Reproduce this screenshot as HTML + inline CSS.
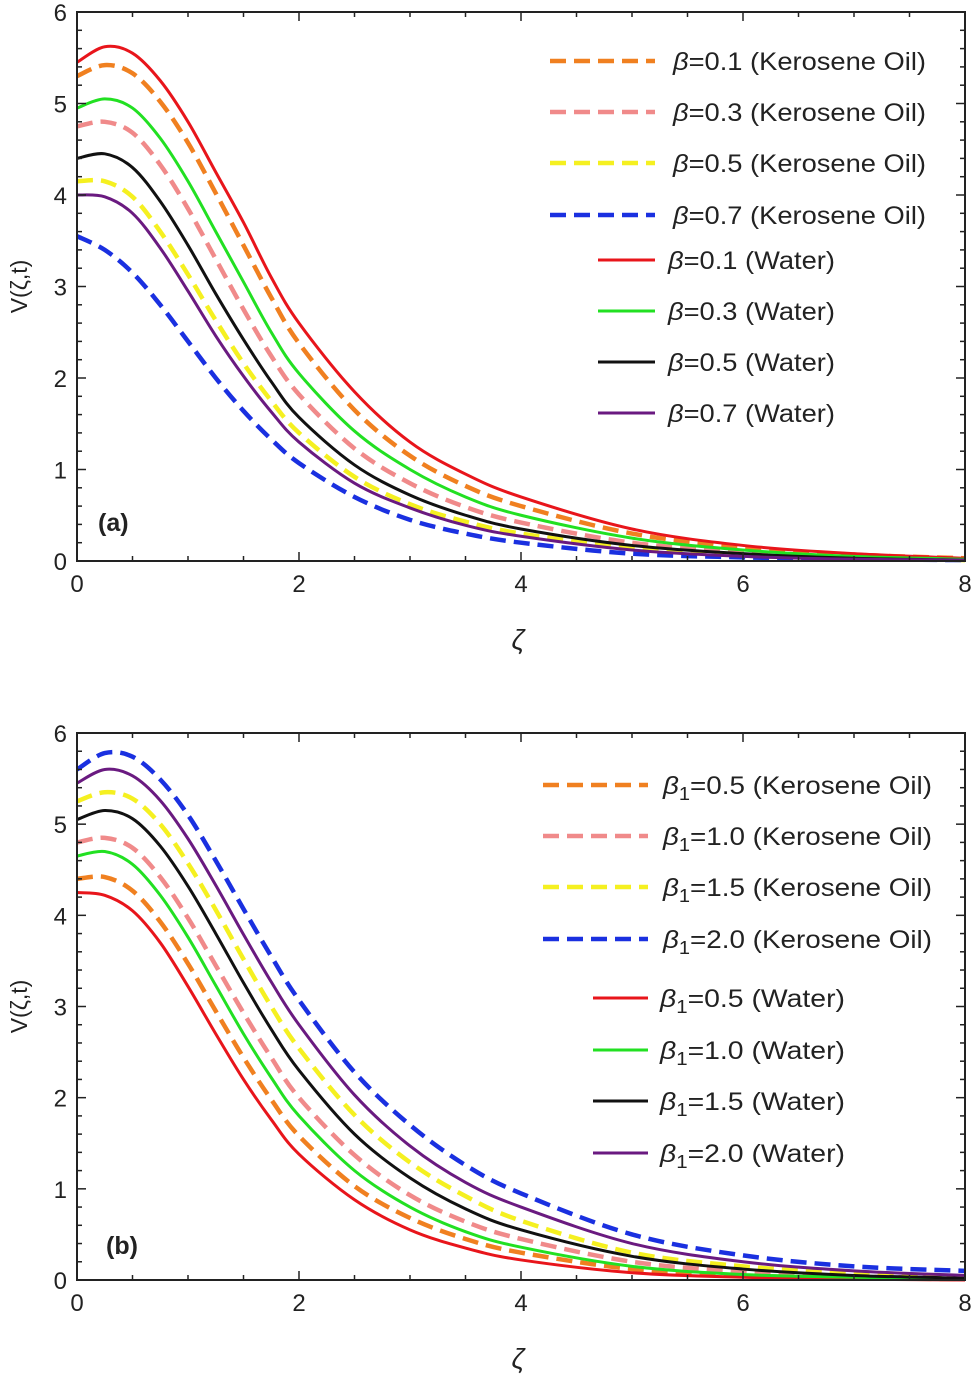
<!DOCTYPE html>
<html><head><meta charset="utf-8"><style>
body{margin:0;background:#fff}
svg text{font-family:"Liberation Sans",sans-serif;fill:#222}
</style></head><body>
<svg id="c" width="976" height="1379" viewBox="0 0 976 1379" xmlns="http://www.w3.org/2000/svg"></svg>
<script>
const xs=[0,0.25,0.5,0.75,1,1.25,1.5,1.75,2,2.5,3,3.5,4,5,6,7,8];
const xTicks=[0,2,4,6,8];
const yTicks=[0,1,2,3,4,5,6];
const aRedW=[5.45,5.62,5.55,5.25,4.8,4.25,3.7,3.1,2.6,1.85,1.3,0.95,0.7,0.35,0.17,0.08,0.03];
const aOrK=[5.3,5.42,5.33,5.02,4.57,4.02,3.45,2.88,2.38,1.65,1.15,0.82,0.6,0.3,0.15,0.07,0.03];
const aGrW=[4.95,5.05,4.95,4.62,4.15,3.6,3.05,2.5,2.05,1.42,1.0,0.7,0.5,0.25,0.12,0.05,0.02];
const aPkK=[4.75,4.8,4.68,4.33,3.85,3.3,2.75,2.24,1.82,1.23,0.85,0.59,0.42,0.2,0.1,0.04,0.02];
const aBkW=[4.4,4.45,4.3,3.93,3.45,2.92,2.42,1.96,1.57,1.05,0.72,0.5,0.35,0.17,0.08,0.03,0.01];
const aYeK=[4.15,4.15,3.98,3.6,3.13,2.63,2.16,1.75,1.4,0.92,0.62,0.43,0.3,0.14,0.06,0.03,0.01];
const aPuW=[4.0,3.98,3.8,3.42,2.95,2.46,2.02,1.63,1.3,0.85,0.58,0.39,0.27,0.12,0.05,0.02,0.01];
const aBlK=[3.55,3.4,3.15,2.8,2.4,2.0,1.64,1.33,1.07,0.7,0.45,0.3,0.2,0.08,0.04,0.02,0.01];
const bRedW=[4.25,4.22,4.05,3.7,3.22,2.7,2.2,1.76,1.38,0.88,0.55,0.35,0.22,0.08,0.03,0.01,0];
const bOrK=[4.4,4.42,4.27,3.93,3.47,2.95,2.44,1.98,1.58,1.03,0.68,0.45,0.3,0.12,0.05,0.02,0.01];
const bGrW=[4.65,4.7,4.56,4.22,3.76,3.23,2.7,2.22,1.8,1.2,0.8,0.53,0.36,0.15,0.06,0.03,0.01];
const bPkK=[4.8,4.85,4.74,4.42,3.97,3.45,2.93,2.44,2.0,1.37,0.93,0.64,0.45,0.2,0.09,0.04,0.02];
const bBkW=[5.05,5.15,5.06,4.76,4.32,3.8,3.26,2.75,2.3,1.6,1.12,0.78,0.55,0.26,0.12,0.05,0.02];
const bYeK=[5.25,5.35,5.28,5.0,4.57,4.06,3.52,3.0,2.54,1.81,1.29,0.92,0.65,0.3,0.15,0.07,0.03];
const bPuW=[5.45,5.6,5.53,5.26,4.84,4.33,3.79,3.27,2.8,2.03,1.47,1.07,0.8,0.4,0.2,0.1,0.05];
const bBlK=[5.6,5.78,5.74,5.49,5.1,4.6,4.07,3.55,3.07,2.28,1.7,1.26,0.95,0.5,0.27,0.15,0.1];
const legA=["β=0.1 (Kerosene Oil)","β=0.3 (Kerosene Oil)","β=0.5 (Kerosene Oil)","β=0.7 (Kerosene Oil)","β=0.1 (Water)","β=0.3 (Water)","β=0.5 (Water)","β=0.7 (Water)"];
const legB=["0.5 (Kerosene Oil)","1.0 (Kerosene Oil)","1.5 (Kerosene Oil)","2.0 (Kerosene Oil)","0.5 (Water)","1.0 (Water)","1.5 (Water)","2.0 (Water)"];

const NS="http://www.w3.org/2000/svg";
const svg=document.getElementById('c');
function mk(t,a,p){const e=document.createElementNS(NS,t);for(const k in a)e.setAttribute(k,a[k]);(p||svg).appendChild(e);return e;}
const C={red:"#e8151b",or:"#f08020",gr:"#22e022",pk:"#f08a8a",bk:"#111",ye:"#f5f020",pu:"#6a1a80",bl:"#1a30e0"};

function panel(id,top,bot,series,legend,lg,tag){
  const g=mk('g',{});
  
  
  const L=77,R=965;
  const sx=v=>L+(R-L)*v/8, sy=v=>bot-(bot-top)*v/6;
  for(const s of series){
    const pts=xs.map((x,i)=>[sx(x),sy(s.d[i])]);
    let d='M'+pts[0][0]+','+pts[0][1];
    for(let i=0;i<pts.length-1;i++){
      const p0=pts[Math.max(0,i-1)],p1=pts[i],p2=pts[i+1],p3=pts[Math.min(pts.length-1,i+2)];
      const c1=[p1[0]+(p2[0]-p0[0])/6,p1[1]+(p2[1]-p0[1])/6];
      const c2=[p2[0]-(p3[0]-p1[0])/6,p2[1]-(p3[1]-p1[1])/6];
      d+=` C${c1[0]},${c1[1]} ${c2[0]},${c2[1]} ${p2[0]},${p2[1]}`;
    }
    const p=mk('path',{d:d,fill:'none',stroke:s.c,'stroke-width':s.k?4.5:3,'stroke-dasharray':s.k?'16,8':'none'},g);
    
    
  }
  const fr=mk('rect',{x:L,y:top,width:R-L,height:bot-top,fill:'none',stroke:'#222','stroke-width':2},g);
  
  
  for(let v=0;v<=8.001;v+=0.5){const x=sx(v),len=Math.abs(v-Math.round(v/2)*2)<1e-6?9:5;
    mk('line',{x1:x,y1:bot,x2:x,y2:bot-len,stroke:'#222','stroke-width':1.5},g);
    mk('line',{x1:x,y1:top,x2:x,y2:top+len,stroke:'#222','stroke-width':1.5},g);}
  for(let v=0;v<=6.001;v+=0.2){const y=sy(v),len=Math.abs(v-Math.round(v))<1e-6?9:5;
    mk('line',{x1:L,y1:y,x2:L+len,y2:y,stroke:'#222','stroke-width':1.5},g);
    mk('line',{x1:R,y1:y,x2:R-len,y2:y,stroke:'#222','stroke-width':1.5},g);}
  for(const t of xTicks){const e=mk('text',{x:sx(t),y:bot+31,'font-size':24,'text-anchor':'middle'},g);e.textContent=t;
    }
  for(const t of yTicks){const e=mk('text',{x:L-10,y:sy(t)+9,'font-size':24,'text-anchor':'end'},g);e.textContent=t;
    }
  const xl=mk('text',{x:518,y:bot+88,'font-size':28,'font-style':'italic','text-anchor':'middle','font-family':'Liberation Serif'},g);xl.textContent='ζ';
  
  const yl=mk('text',{x:0,y:0,'font-size':23,'text-anchor':'middle',transform:`translate(27,${(top+bot)/2}) rotate(-90)`},g);yl.textContent='V(ζ,t)';
  
  const tg=mk('text',{x:tag[0],y:tag[1],'font-size':25,'font-weight':'bold'},g);tg.textContent=tag[2];
  
  for(let i=0;i<8;i++){const s=series[i],ly=lg.ys[i],k=i<4;
    const x1=k?lg.k1:lg.w1,x2=lg.x2;
    const ln=mk('line',{x1:x1,y1:ly,x2:x2,y2:ly,stroke:s.c,'stroke-width':k?4.5:3,'stroke-dasharray':k?'16,8':'none'},g);
    
    const tx=mk('text',{x:k?lg.kx:lg.wx,y:ly+9,'font-size':25,textLength:k?lg.kl:lg.wl,lengthAdjust:'spacingAndGlyphs'},g);
    
    if(lg.sub){const b=mk('tspan',{'font-style':'italic'},tx);b.textContent='β';const s1=mk('tspan',{'font-size':18,dy:6},tx);s1.textContent='1';const r=mk('tspan',{dy:-6},tx);r.textContent='='+legend[i];}
    else{const b=mk('tspan',{'font-style':'italic'},tx);b.textContent='β';const r=mk('tspan',{},tx);r.textContent=legend[i].slice(1);}
  }
}
panel('a',12,561,[
 {n:'beta-0.1-kerosene',d:aOrK,c:C.or,k:1},{n:'beta-0.3-kerosene',d:aPkK,c:C.pk,k:1},{n:'beta-0.5-kerosene',d:aYeK,c:C.ye,k:1},{n:'beta-0.7-kerosene',d:aBlK,c:C.bl,k:1},
 {n:'beta-0.1-water',d:aRedW,c:C.red},{n:'beta-0.3-water',d:aGrW,c:C.gr},{n:'beta-0.5-water',d:aBkW,c:C.bk},{n:'beta-0.7-water',d:aPuW,c:C.pu}],
 legA,{ys:[61,112,163,215,260,311,362,413],k1:550,w1:598,x2:655,kx:673,wx:668,kl:253,wl:167},[98,531,'(a)']);
panel('b',733,1280,[
 {n:'beta1-0.5-kerosene',d:bOrK,c:C.or,k:1},{n:'beta1-1.0-kerosene',d:bPkK,c:C.pk,k:1},{n:'beta1-1.5-kerosene',d:bYeK,c:C.ye,k:1},{n:'beta1-2.0-kerosene',d:bBlK,c:C.bl,k:1},
 {n:'beta1-0.5-water',d:bRedW,c:C.red},{n:'beta1-1.0-water',d:bGrW,c:C.gr},{n:'beta1-1.5-water',d:bBkW,c:C.bk},{n:'beta1-2.0-water',d:bPuW,c:C.pu}],
 legB,{ys:[785,836,887,939,998,1050,1101,1153],k1:543,w1:593,x2:648,kx:663,wx:660,kl:269,wl:185,sub:1},[106,1254,'(b)']);
</script>
</body></html>
